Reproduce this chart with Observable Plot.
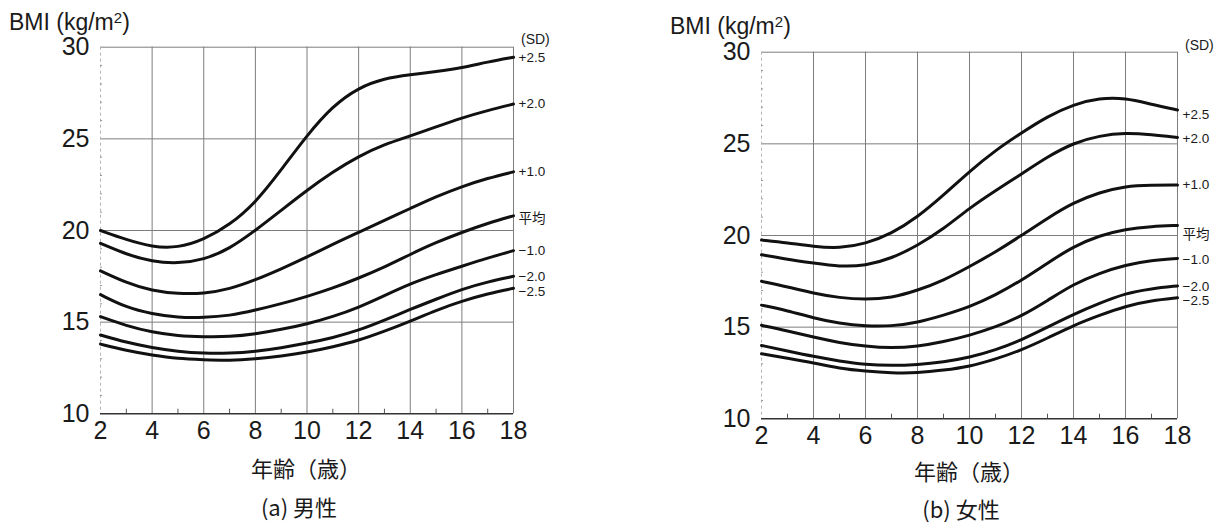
<!DOCTYPE html>
<html><head><meta charset="utf-8">
<script src="https://cdn.jsdelivr.net/npm/d3@7"></script>
<script src="https://cdn.jsdelivr.net/npm/@observablehq/plot@0.6"></script>
<style>
body{margin:0;background:#fff;}
#wrap{position:relative;width:1228px;height:524px;overflow:hidden;background:#fff;color:#1a1a1a;}
.abs{position:absolute;white-space:nowrap;line-height:1.25;}
.ttl{font-family:"Liberation Sans",Arial,sans-serif;font-size:23px;line-height:1;}
.sdh{font-family:"Liberation Sans",Arial,sans-serif;font-size:14px;}
.xl{font-family:"Noto Sans CJK JP",sans-serif;font-size:22px;transform:translate(-50%,-50%);}
.svgbox{position:absolute;top:0;}
</style></head>
<body><div id="wrap"></div>
<script>
// ---- data ----
const ages = [2,3,4,5,6,7,8,9,10,11,12,13,14,15,16,17,18];
const sdLabels = ["+2.5","+2.0","+1.0","平均","−1.0","−2.0","−2.5"];
const xTicks = [2,4,6,8,10,12,14,16,18];
const yTicks = [10,15,20,25,30];

// Boys (男性)
const boysP25  = [20.0,19.5,19.1,19.05,19.5,20.3,21.5,23.3,25.2,26.8,27.8,28.3,28.5,28.67,28.87,29.2,29.45];
const boysP20  = [19.3,18.7,18.3,18.2,18.4,19.0,20.0,21.1,22.2,23.2,24.05,24.7,25.15,25.65,26.15,26.55,26.9];
const boysP10  = [17.8,17.15,16.7,16.55,16.55,16.8,17.3,17.9,18.55,19.25,19.9,20.55,21.2,21.85,22.4,22.85,23.2];
const boysMean = [16.5,15.8,15.45,15.25,15.25,15.35,15.65,16.0,16.4,16.85,17.4,18.0,18.7,19.35,19.9,20.4,20.8];
const boysM10  = [15.3,14.8,14.45,14.25,14.2,14.2,14.35,14.6,14.9,15.3,15.8,16.45,17.1,17.6,18.05,18.5,18.9];
const boysM20  = [14.3,13.9,13.6,13.4,13.3,13.3,13.4,13.6,13.85,14.15,14.55,15.1,15.7,16.25,16.8,17.2,17.5];
const boysM25  = [13.8,13.45,13.2,13.0,12.95,12.9,13.0,13.15,13.35,13.65,14.0,14.5,15.05,15.65,16.15,16.55,16.85];

// Girls (女性)
const girlsP25  = [19.75,19.6,19.4,19.3,19.55,20.1,21.0,22.2,23.5,24.65,25.6,26.5,27.15,27.5,27.5,27.15,26.85];
const girlsP20  = [18.95,18.7,18.5,18.3,18.35,18.75,19.45,20.35,21.5,22.45,23.35,24.3,25.05,25.45,25.6,25.5,25.35];
const girlsP10  = [17.5,17.2,16.85,16.6,16.5,16.6,17.0,17.55,18.3,19.1,20.0,20.95,21.8,22.35,22.7,22.75,22.75];
const girlsMean = [16.2,15.9,15.5,15.2,15.05,15.05,15.25,15.65,16.1,16.75,17.55,18.5,19.4,20.0,20.35,20.5,20.55];
const girlsM10  = [15.1,14.8,14.45,14.15,13.95,13.85,13.95,14.2,14.55,15.0,15.6,16.45,17.35,17.95,18.4,18.65,18.75];
const girlsM20  = [14.0,13.7,13.4,13.15,12.95,12.9,12.95,13.1,13.35,13.75,14.3,15.0,15.7,16.3,16.85,17.1,17.25];
const girlsM25  = [13.55,13.3,13.05,12.75,12.6,12.5,12.5,12.65,12.85,13.25,13.75,14.4,15.1,15.65,16.15,16.45,16.6];

// ---- styling (not data) ----
const boysLabelDy  = [0,0,0,3,0,0,3];
const girlsLabelDy = [5,1,0,9,1,1,3];

const FONT = '"Liberation Sans",Arial,sans-serif';

function panel(series, labelDy, m) {
  const data = [];
  series.forEach((vals, i) => vals.forEach((v, j) => data.push({age: ages[j], bmi: v, sd: sdLabels[i]})));
  const ends = series.map((vals, i) => ({age: ages[ages.length-1], bmi: vals[vals.length-1], sd: sdLabels[i], dy: labelDy[i]}));
  const gridX = xTicks.filter(d => d > 2);
  const gridY = yTicks.filter(d => d > 10);
  const minorX = ages.filter(d => d % 2 === 1);
  const minorY = d3.range(11, 30).filter(d => d % 5 !== 0);
  return Plot.plot({
    width: 614, height: 524,
    marginLeft: m.left, marginRight: m.right, marginTop: m.top, marginBottom: m.bottom,
    x: {domain: [2, 18]},
    y: {domain: [10, 30]},
    style: {fontFamily: FONT, background: "transparent", color: "#1a1a1a", overflow: "visible"},
    marks: [
      Plot.ruleX(gridX, {stroke: "#7d7d7d", strokeWidth: 1}),
      Plot.ruleY(gridY, {stroke: "#7d7d7d", strokeWidth: 1}),
      Plot.ruleX([2], {stroke: "#b5b5b5", strokeWidth: 1, strokeDasharray: "3,3"}),
      Plot.ruleY(minorY, {x1: 2, x2: 2.08, stroke: "#999", strokeWidth: 1}),
      Plot.ruleY([10], {stroke: "#333", strokeWidth: 1.5}),
      Plot.ruleX(minorX, {y1: 10, y2: 10.25, stroke: "#555", strokeWidth: 1}),
      Plot.lineY(data, {x: "age", y: "bmi", z: "sd", stroke: "#111", strokeWidth: 3, curve: "basis"}),
      ...ends.map(e => Plot.text([e], {x: "age", y: "bmi", text: "sd", textAnchor: "start", dx: 5, dy: e.dy, fontSize: 13.5,
        fontFamily: e.sd === "平均" ? '"Noto Sans CJK JP",sans-serif' : FONT, fill: "#1a1a1a"})),
      Plot.axisX({ticks: xTicks, tickSize: 0, tickPadding: 7, fontSize: 25, label: null, tickFormat: d => String(d)}),
      Plot.axisY({ticks: yTicks, tickSize: 0, tickPadding: 11, fontSize: 25, label: null, tickFormat: d => String(d)})
    ]
  });
}

const wrap = document.getElementById("wrap");
function addSvg(svg, left) {
  const div = document.createElement("div");
  div.className = "svgbox";
  div.style.left = left + "px";
  div.appendChild(svg);
  wrap.appendChild(div);
}
function addText(cls, html, x, y) {
  const d = document.createElement("div");
  d.className = "abs " + cls;
  d.innerHTML = html;
  d.style.left = x + "px";
  d.style.top = y + "px";
  wrap.appendChild(d);
}

addSvg(panel([boysP25, boysP20, boysP10, boysMean, boysM10, boysM20, boysM25], boysLabelDy,
  {left: 100, right: 101, top: 46.7, bottom: 110.7}), 0);
addSvg(panel([girlsP25, girlsP20, girlsP10, girlsMean, girlsM10, girlsM20, girlsM25], girlsLabelDy,
  {left: 147, right: 51, top: 51.7, bottom: 105.7}), 614);

addText("ttl", "BMI (kg/m<sup style='font-size:15px;vertical-align:7px'>2</sup>)", 9, 10);
addText("ttl", "BMI (kg/m<sup style='font-size:15px;vertical-align:7px'>2</sup>)", 670, 14);
addText("sdh", "(SD)", 521, 31);
addText("sdh", "(SD)", 1185, 37);
addText("xl", "年齢（歳）", 306, 468);
addText("xl", "年齢（歳）", 969, 471);
addText("xl", "(a) 男性", 299, 507);
addText("xl", "(b) 女性", 961, 509);
</script>
</body></html>
